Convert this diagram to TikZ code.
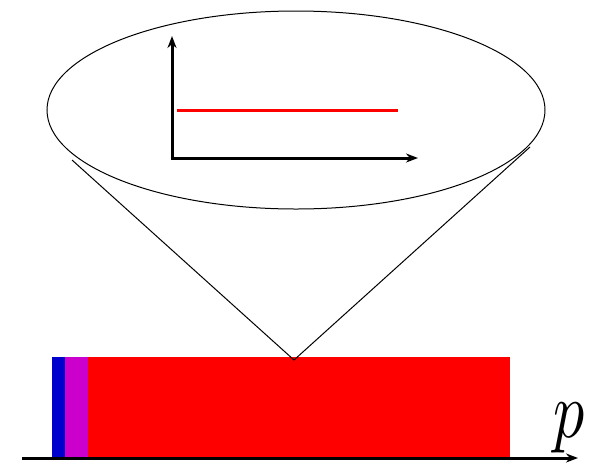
\documentclass[tikz,border=0pt]{standalone}
\usetikzlibrary{arrows.meta}
\definecolor{barblue}{RGB}{0,0,204}
\definecolor{barmag}{RGB}{204,0,204}
\begin{document}
\begin{tikzpicture}[x=1pt,y=-1pt,
  thinline/.style={line width=1pt,black},
  axisline/.style={line width=3pt,black,-{Stealth[length=12pt,width=9pt]}},
  baseline/.style={line width=3pt,black,-{Stealth[length=12pt,width=9pt]}}]
\useasboundingbox (0,0) rectangle (594,464);
% bar
\fill[red] (88,357) rectangle (510,457);
\fill[barblue] (52,357) rectangle (65,457);
\fill[barmag] (65,357) rectangle (88,457);
% baseline
\coordinate (b0) at (22,458);
\coordinate (b1) at (578,458);
\draw[baseline] (b0) -- (b1);
\node[xscale=6.2, yscale=8, anchor=base, inner sep=0pt] (p) at (569,437) {$p$};
% ellipse
\draw[thinline] (296,110) ellipse [x radius=249, y radius=99];
% cone
\coordinate (apex) at (294,360);
\coordinate (cl) at (72,160);
\coordinate (cr) at (530,147);
\draw[thinline] (cl) -- (apex) -- (cr);
% axes
\coordinate (o) at (172,158);
\coordinate (yt) at (172,36);
\coordinate (xr) at (418,158);
\draw[axisline] (o) -- (yt);
\draw[axisline] ([xshift=-1.5pt]o) -- (xr);
% red line
\coordinate (r0) at (177,110);
\coordinate (r1) at (398,110);
\draw[red,line width=3pt] (r0) -- (r1);
\end{tikzpicture}
\end{document}
